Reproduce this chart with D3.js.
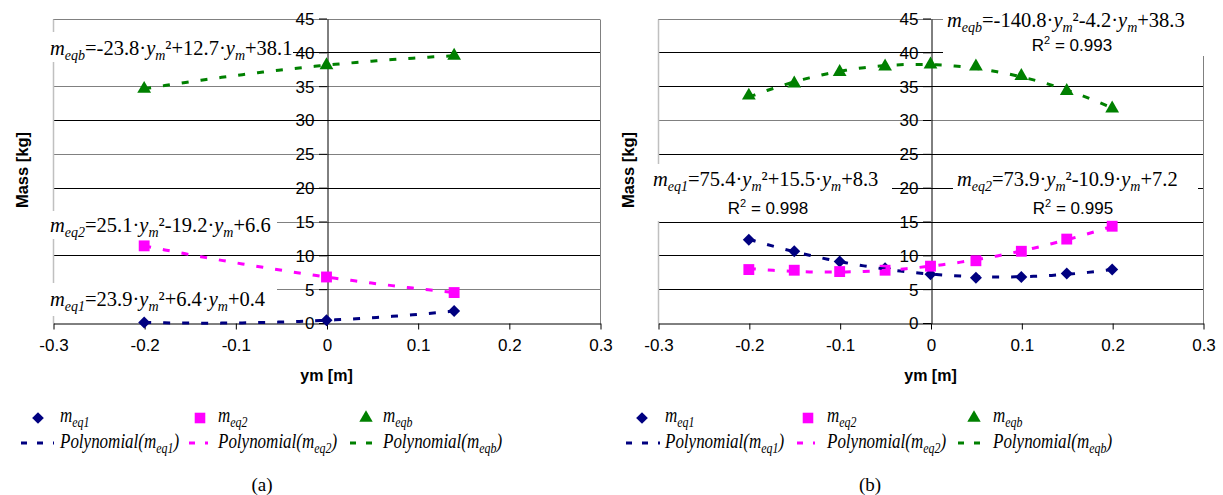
<!DOCTYPE html>
<html><head><meta charset="utf-8">
<script src="https://cdn.jsdelivr.net/npm/d3@7"></script>
<style>body{margin:0;background:#fff}svg{display:block}</style>
</head><body>
<svg id="c" width="1223" height="495"></svg>
<script>
// ---------- data ----------
const xTicks = [-0.3, -0.2, -0.1, 0, 0.1, 0.2, 0.3];
const yTicks = [0, 5, 10, 15, 20, 25, 30, 35, 40, 45];
const seriesSubs = ["eq1", "eq2", "eqb"];
const seriesColors = ["#000080", "#FF00FF", "#008000"];

// panel (a)
const aX   = [-0.2, 0, 0.14];
const aEq1 = [0.08, 0.4, 1.76];
const aEq2 = [11.4, 6.8, 4.5];
const aEqb = [34.6, 38.1, 39.5];
const aEquations = [["eqb", "-23.8", "+12.7", "+38.1"], ["eq2", "25.1", "-19.2", "+6.6"], ["eq1", "23.9", "+6.4", "+0.4"]];
const aR2 = [null, null, null];

// panel (b)
const bX   = [-0.2, -0.15, -0.1, -0.05, 0, 0.05, 0.1, 0.15, 0.2];
const bEq1 = [12.3, 10.6, 9.1, 8.1, 7.2, 6.7, 6.8, 7.3, 7.9];
const bEq2 = [7.9, 7.8, 7.6, 7.8, 8.4, 9.2, 10.6, 12.4, 14.3];
const bEqb = [33.6, 35.4, 37.1, 37.9, 38.2, 37.9, 36.5, 34.3, 31.7];
const bEquations = [["eqb", "-140.8", "-4.2", "+38.3"], ["eq1", "75.4", "+15.5", "+8.3"], ["eq2", "73.9", "-10.9", "+7.2"]];
const bR2 = ["0.993", "0.998", "0.995"];

const captions = ["(a)", "(b)"];

// ---------- layout ----------
const SANS = "'Liberation Sans', Arial, sans-serif";
const SERIF = "'Liberation Serif', 'Times New Roman', serif";
const panels = [
  { left: 53, right: 600, xs: aX, ys: [aEq1, aEq2, aEqb], eqs: aEquations, r2: aR2,
    eqPos: [[50, 55], [50, 232], [50, 306]], r2Pos: [],
    boxes: [[45, 32, 248, 30], [45, 211, 232, 28], [45, 283, 232, 33]],
    gridColor: v => (v % 10 === 0 ? "#000" : "#808080"),
    yLabelX: 22, legMarkX: [38, 200, 366], legTextX: [60, 218, 383],
    legDash: [[21, 54], [189, 208], [350, 372]], capX: 262, caption: captions[0] },
  { left: 658, right: 1203, xs: bX, ys: [bEq1, bEq2, bEqb], eqs: bEquations, r2: bR2,
    eqPos: [[947, 27], [653, 186], [957, 186]], r2Pos: [[1072, 51], [768, 214], [1073, 214]],
    boxes: [[943, 4, 262, 52], [650, 164, 242, 57], [953, 166, 245, 53]],
    gridColor: v => ((v === 45 || v === 30) ? "#808080" : "#000"),
    yLabelX: 628, legMarkX: [642, 808, 974], legTextX: [665, 827, 993],
    legDash: [[626, 660], [797, 815], [958, 990]], capX: 870, caption: captions[1] }
];

const svg = d3.select("#c");
const y = d3.scaleLinear().domain([0, 45]).range([323, 18.5]);

function polyfit(xs, ys) {
  const S = [0, 0, 0, 0, 0], T = [0, 0, 0];
  xs.forEach((x, i) => {
    for (let k = 0; k < 5; k++) S[k] += Math.pow(x, k);
    for (let k = 0; k < 3; k++) T[k] += Math.pow(x, k) * ys[i];
  });
  const M = [[S[0], S[1], S[2], T[0]], [S[1], S[2], S[3], T[1]], [S[2], S[3], S[4], T[2]]];
  for (let i = 0; i < 3; i++) {
    let p = i;
    for (let r = i + 1; r < 3; r++) if (Math.abs(M[r][i]) > Math.abs(M[p][i])) p = r;
    [M[i], M[p]] = [M[p], M[i]];
    for (let r = 0; r < 3; r++) if (r !== i) {
      const f = M[r][i] / M[i][i];
      for (let c = i; c < 4; c++) M[r][c] -= f * M[i][c];
    }
  }
  return [M[0][3] / M[0][0], M[1][3] / M[1][1], M[2][3] / M[2][2]];
}

function marker(sel, i, size) {
  const types = [d3.symbolSquare, d3.symbolSquare, d3.symbolTriangle];
  const sizes = [72, 118, 82];
  sel.attr("d", d3.symbol().type(types[i]).size(sizes[i] * (size || 1))());
  if (i === 0) sel.attr("transform", function () { return this.getAttribute("transform") + " rotate(45)"; });
}

function eqText(g, eq, px, py) {
  const t = g.append("text").attr("x", px).attr("y", py)
    .attr("font-family", SERIF).attr("font-size", 20.5).attr("fill", "#000");
  const sub = (s) => t.append("tspan").attr("font-style", "italic").attr("font-size", 14).attr("dy", 5).text(s);
  const norm = (s) => t.append("tspan").attr("dy", -5).text(s);
  t.append("tspan").attr("font-style", "italic").text("m");
  sub(eq[0]);
  norm("=" + eq[1] + "\u00B7");
  t.append("tspan").attr("font-style", "italic").text("y");
  sub("m");
  norm("\u00B2" + eq[2] + "\u00B7");
  t.append("tspan").attr("font-style", "italic").text("y");
  sub("m");
  norm(eq[3]);
}

panels.forEach(P => {
  const g = svg.append("g");
  const x = d3.scaleLinear().domain([-0.3, 0.3]).range([P.left, P.right]);

  // gridlines
  g.selectAll("line.grid").data(yTicks.filter(v => v > 0)).join("line")
    .attr("x1", P.left).attr("x2", P.right)
    .attr("y1", d => Math.round(y(d)) + 0.5).attr("y2", d => Math.round(y(d)) + 0.5)
    .attr("stroke", d => P.gridColor(d)).attr("stroke-width", 1);
  // borders
  g.append("line").attr("x1", P.left + 0.5).attr("x2", P.left + 0.5)
    .attr("y1", Math.round(y(45)) + 0.5).attr("y2", Math.round(y(0)) + 0.5)
    .attr("stroke", "#c0c0c0").attr("stroke-width", 1.5);
  g.append("line").attr("x1", P.right + 0.5).attr("x2", P.right + 0.5)
    .attr("y1", Math.round(y(45)) + 0.5).attr("y2", Math.round(y(0)) + 0.5)
    .attr("stroke", "#808080");

  // label boxes
  P.boxes.forEach(b => g.append("rect").attr("x", b[0]).attr("y", b[1]).attr("width", b[2]).attr("height", b[3]).attr("fill", "#fff"));

  // axes
  const ya = g.append("g").attr("transform", `translate(${Math.round(x(0)) + 0.5},0.5)`)
    .call(d3.axisLeft(y).tickValues(yTicks).tickSize(8).tickSizeOuter(0).tickPadding(5).tickFormat(d => String(d)));
  const xa = g.append("g").attr("transform", `translate(0.5,${Math.round(y(0)) + 0.5})`)
    .call(d3.axisBottom(x).tickValues(xTicks).tickSize(6).tickSizeOuter(0).tickPadding(9).tickFormat(d => String(d)));
  [ya, xa].forEach(a => {
    a.attr("font-family", SANS).attr("font-size", 17);
    a.selectAll("text").attr("fill", "#000");
    a.selectAll("line,path").attr("stroke", "#000");
  });
  ya.selectAll(".tick line").attr("transform", "translate(-0.5,-0.5)");

  // axis titles
  g.append("text").attr("transform", `translate(${P.yLabelX},170) rotate(-90)`)
    .attr("text-anchor", "middle").attr("dy", "0.35em")
    .attr("font-family", SANS).attr("font-size", 16.5).attr("font-weight", "bold").text("Mass [kg]");
  g.append("text").attr("x", x(0)).attr("y", 381).attr("text-anchor", "middle")
    .attr("font-family", SANS).attr("font-size", 16).attr("font-weight", "bold").text("ym [m]");

  // series markers
  P.ys.forEach((ys, i) => {
    g.selectAll(null).data(ys).join("path")
      .attr("transform", (d, j) => `translate(${x(P.xs[j])},${y(d)})`)
      .attr("fill", seriesColors[i])
      .each(function () { marker(d3.select(this), i); });
  });
  // trendlines
  P.ys.forEach((ys, i) => {
    const c = polyfit(P.xs, ys);
    const x0 = d3.min(P.xs), x1 = d3.max(P.xs);
    const pts = d3.range(0, 61).map(k => x0 + (x1 - x0) * k / 60);
    g.append("path").datum(pts)
      .attr("d", d3.line().x(d => x(d)).y(d => y(c[0] + c[1] * d + c[2] * d * d)))
      .attr("fill", "none").attr("stroke", seriesColors[i]).attr("stroke-width", 3)
      .attr("stroke-dasharray", "7,12");
  });

  // equations
  P.eqs.forEach((eq, i) => {
    eqText(g, eq, P.eqPos[i][0], P.eqPos[i][1]);
    if (P.r2[i]) {
      const t = g.append("text").attr("x", P.r2Pos[i][0]).attr("y", P.r2Pos[i][1]).attr("text-anchor", "middle")
        .attr("font-family", SANS).attr("font-size", 17).attr("fill", "#000");
      t.append("tspan").text("R");
      t.append("tspan").attr("font-size", 11).attr("dy", -7).text("2");
      t.append("tspan").attr("dy", 7).text(" = " + P.r2[i]);
    }
  });

  // legend
  seriesSubs.forEach((s, i) => {
    g.append("path").attr("transform", `translate(${P.legMarkX[i]},418)`).attr("fill", seriesColors[i])
      .each(function () { marker(d3.select(this), i, 0.95); });
    const t1 = g.append("text").attr("transform", `translate(${P.legTextX[i]},422) scale(0.85,1)`)
      .attr("font-family", SERIF).attr("font-style", "italic").attr("font-size", 20);
    t1.append("tspan").text("m");
    t1.append("tspan").attr("font-size", 14).attr("dy", 5).text(s);
    g.append("line").attr("x1", P.legDash[i][0]).attr("x2", P.legDash[i][1]).attr("y1", 443).attr("y2", 443)
      .attr("stroke", seriesColors[i]).attr("stroke-width", 3).attr("stroke-dasharray", "6,10");
    const t2 = g.append("text").attr("transform", `translate(${P.legTextX[i]},448) scale(0.85,1)`)
      .attr("font-family", SERIF).attr("font-style", "italic").attr("font-size", 20);
    t2.append("tspan").text("Polynomial(m");
    t2.append("tspan").attr("font-size", 14).attr("dy", 5).text(s);
    t2.append("tspan").attr("dy", -5).text(")");
  });

  // caption
  g.append("text").attr("x", P.capX).attr("y", 491).attr("text-anchor", "middle")
    .attr("font-family", SERIF).attr("font-size", 19).text(P.caption);
});
</script>
</body></html>
